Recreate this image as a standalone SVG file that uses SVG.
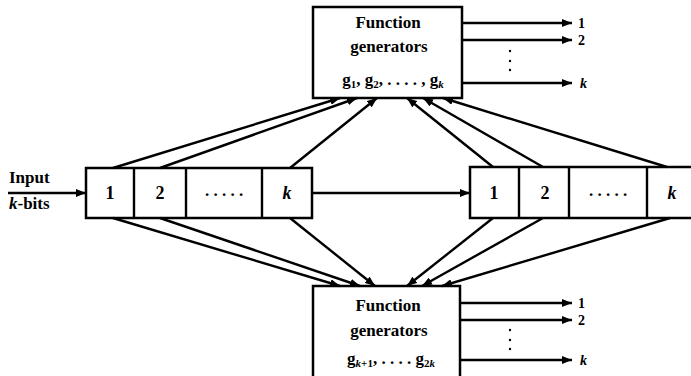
<svg xmlns="http://www.w3.org/2000/svg" width="691" height="376" viewBox="0 0 691 376">
<defs>
<marker id="ah" viewBox="0 0 10 8" refX="10" refY="4" markerWidth="10" markerHeight="8" markerUnits="userSpaceOnUse" orient="auto">
<path d="M0,0 L10,4 L0,8 Z" fill="#000"/>
</marker>
</defs>
<style>
.box{fill:#fff;stroke:#000;stroke-width:2.5}
.ln{stroke:#000;stroke-width:2.4;fill:none}
.ar{stroke:#000;stroke-width:2.4;fill:none;marker-end:url(#ah)}
.t{font-family:"Liberation Serif","DejaVu Serif",serif;font-weight:bold;font-size:17px;fill:#000}
.r{font-size:18px}
.o{font-size:14px}
.c{text-anchor:middle}
.i{font-style:italic}
.dot{fill:#000}
</style>
<rect width="691" height="376" fill="#fff"/>

<g id="input">
<text class="t" x="9" y="183" font-size="16">Input</text>
<text class="t" x="9" y="209" font-size="16"><tspan class="i">k</tspan>-bits</text>
</g>

<g id="reg-left">
<rect class="box" x="86" y="168" width="226" height="50"/>
<line class="ln" x1="134" y1="168" x2="134" y2="218"/>
<line class="ln" x1="186" y1="168" x2="186" y2="218"/>
<line class="ln" x1="262" y1="168" x2="262" y2="218"/>
<text class="t c r" x="110" y="199">1</text>
<text class="t c r" x="160" y="199">2</text>
<text class="t c" x="224" y="196">. . . . .</text>
<text class="t c i r" x="287" y="199">k</text>
</g>

<g id="reg-right">
<rect class="box" x="470" y="167" width="230" height="51"/>
<line class="ln" x1="519" y1="167" x2="519" y2="218"/>
<line class="ln" x1="569" y1="167" x2="569" y2="218"/>
<line class="ln" x1="647" y1="167" x2="647" y2="218"/>
<text class="t c r" x="494" y="199">1</text>
<text class="t c r" x="545" y="199">2</text>
<text class="t c" x="608" y="196">. . . . .</text>
<text class="t c i r" x="672" y="199">k</text>
</g>

<g id="fg-top">
<rect class="box" x="313" y="7" width="149" height="91"/>
<text class="t c" x="388" y="28">Function</text>
<text class="t c" x="389" y="52">generators</text>
<text class="t c" x="393" y="85">g<tspan font-size="11" dy="3">1</tspan><tspan dy="-3">, g</tspan><tspan font-size="11" dy="3">2</tspan><tspan dy="-3">, . . . . , g</tspan><tspan font-size="11" dy="3" class="i">k</tspan></text>
</g>

<g id="fg-bottom">
<rect class="box" x="313" y="286" width="147" height="100"/>
<text class="t c" x="388" y="311">Function</text>
<text class="t c" x="389" y="336">generators</text>
<text class="t c" x="391" y="364">g<tspan font-size="11" dy="3" class="i">k</tspan><tspan font-size="11">+1</tspan><tspan dy="-3">, . . . . g</tspan><tspan font-size="11" dy="3">2</tspan><tspan font-size="11" class="i">k</tspan></text>
</g>

<g id="out-labels">
<text class="t o" x="578" y="28">1</text>
<text class="t o" x="578" y="45">2</text>
<text class="t o i" x="580" y="88">k</text>
<text class="t o" x="578" y="308">1</text>
<text class="t o" x="578" y="325">2</text>
<text class="t o i" x="580" y="365">k</text>
<circle class="dot" cx="510" cy="51" r="1.2"/>
<circle class="dot" cx="510" cy="61" r="1.2"/>
<circle class="dot" cx="510" cy="70" r="1.2"/>
<circle class="dot" cx="510" cy="330" r="1.2"/>
<circle class="dot" cx="510" cy="340" r="1.2"/>
<circle class="dot" cx="510" cy="349" r="1.2"/>
</g>

<g id="connectors">
<line class="ar" x1="8" y1="193" x2="86" y2="193"/>
<line class="ar" x1="312" y1="193" x2="470" y2="193"/>
<line class="ar" x1="462" y1="23" x2="572" y2="23"/>
<line class="ar" x1="462" y1="40" x2="572" y2="40"/>
<line class="ar" x1="462" y1="83" x2="572" y2="83"/>
<line class="ar" x1="460" y1="303" x2="572" y2="303"/>
<line class="ar" x1="460" y1="320" x2="572" y2="320"/>
<line class="ar" x1="460" y1="360" x2="572" y2="360"/>
<line class="ar" x1="113" y1="168" x2="340" y2="98"/>
<line class="ar" x1="160" y1="168" x2="357" y2="98"/>
<line class="ar" x1="290" y1="168" x2="377" y2="98"/>
<line class="ar" x1="493" y1="167" x2="407" y2="98"/>
<line class="ar" x1="543" y1="167" x2="423" y2="98"/>
<line class="ar" x1="667" y1="167" x2="443" y2="98"/>
<line class="ar" x1="113" y1="218" x2="340" y2="286"/>
<line class="ar" x1="160" y1="218" x2="360" y2="286"/>
<line class="ar" x1="290" y1="218" x2="375" y2="286"/>
<line class="ar" x1="493" y1="218" x2="407" y2="286"/>
<line class="ar" x1="543" y1="218" x2="422" y2="286"/>
<line class="ar" x1="670" y1="218" x2="442" y2="286"/>
</g>
</svg>
